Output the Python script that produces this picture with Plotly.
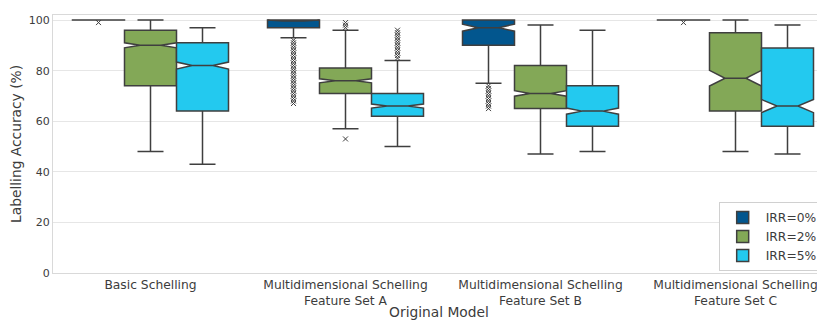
import plotly.graph_objects as go

categories = ["Basic Schelling",
              "Multidimensional Schelling<br>Feature Set A",
              "Multidimensional Schelling<br>Feature Set B",
              "Multidimensional Schelling<br>Feature Set C"]
series_names = ["IRR=0%", "IRR=2%", "IRR=5%"]
colors = ["#02568e", "#83a857", "#23c9ef"]

# per series: values for the 4 categories
q1 = [[100, 97, 90, 100], [74, 71, 65, 64], [64, 62, 58, 58]]
median = [[100, 100, 97, 100], [90, 76, 71, 77], [82, 66, 64, 66]]
q3 = [[100, 100, 100, 100], [96, 81, 82, 95], [91, 71, 74, 89]]
lowerfence = [[100, 93, 75, 100], [48, 57, 47, 48], [43, 50, 48, 47]]
upperfence = [[100, 100, 100, 100], [100, 96, 98, 100], [97, 84, 96, 98]]
notchspan = [[0.01, 0.01, 1.4, 0.01], [1.0, 0.8, 1.1, 3.1], [1.4, 0.8, 1.2, 2.6]]
# points beyond the whiskers
outliers = [
    [[99], list(range(67, 93)), list(range(65, 75)), [99]],
    [[], [53, 97, 98, 99], [], []],
    [[], list(range(85, 97)), [], []],
]

y_ticks = [0, 20, 40, 60, 80, 100]

fig = go.Figure()
line_col = "#3f3f3f"
for s in range(3):
    # sample arrays: the median (inside the box, never drawn) plus the outliers
    samples = [[median[s][c]] + outliers[s][c] for c in range(4)]
    fig.add_trace(go.Box(
        name=series_names[s],
        orientation="v",
        x=categories,
        q1=q1[s], median=median[s], q3=q3[s],
        lowerfence=lowerfence[s], upperfence=upperfence[s],
        notchspan=notchspan[s],
        y=samples,
        notched=True,
        notchwidth=0.3,
        boxpoints="outliers",
        jitter=0, pointpos=0,
        whiskerwidth=0.5,
        fillcolor=colors[s],
        line=dict(color=line_col, width=1.5),
        marker=dict(symbol="x-thin", size=5, color=line_col,
                    line=dict(width=1, color=line_col)),
        hoverinfo="skip",
    ))

font_family = "DejaVu Sans"
fig.update_layout(
    width=817, height=312,
    margin=dict(l=45, r=0, t=7, b=47),
    paper_bgcolor="white", plot_bgcolor="white",
    boxmode="group", boxgap=0.2, boxgroupgap=0,
    font=dict(family=font_family, color="#3c3c3c", size=12),
    showlegend=True,
    legend=dict(x=0.997, y=0.008, xanchor="right", yanchor="bottom",
                bgcolor="white", bordercolor="#d0d0d0", borderwidth=1,
                font=dict(size=12.3, color="#3c3c3c"),
                itemwidth=36),
    xaxis=dict(
        type="category",
        categoryorder="array", categoryarray=categories,
        range=[-0.5, 3.459],
        showgrid=False, zeroline=False,
        showline=True, linecolor="#d9d9d9", linewidth=1, mirror=True,
        ticks="", tickfont=dict(size=12.3, color="#3c3c3c"),
        title=dict(text="Original Model", font=dict(size=13.8, color="#3c3c3c"), standoff=4),
        automargin=False,
    ),
    yaxis=dict(
        range=[0, 102],
        tickvals=y_ticks,
        showgrid=True, gridcolor="#e6e6e6", gridwidth=1,
        zeroline=False,
        showline=True, linecolor="#d9d9d9", linewidth=1, mirror=True,
        ticks="", tickfont=dict(size=11, color="#3c3c3c"),
        title=dict(text="Labelling Accuracy (%)", font=dict(size=13.8, color="#3c3c3c"), standoff=8),
        automargin=False,
    ),
)

fig.write_html("out.html")
